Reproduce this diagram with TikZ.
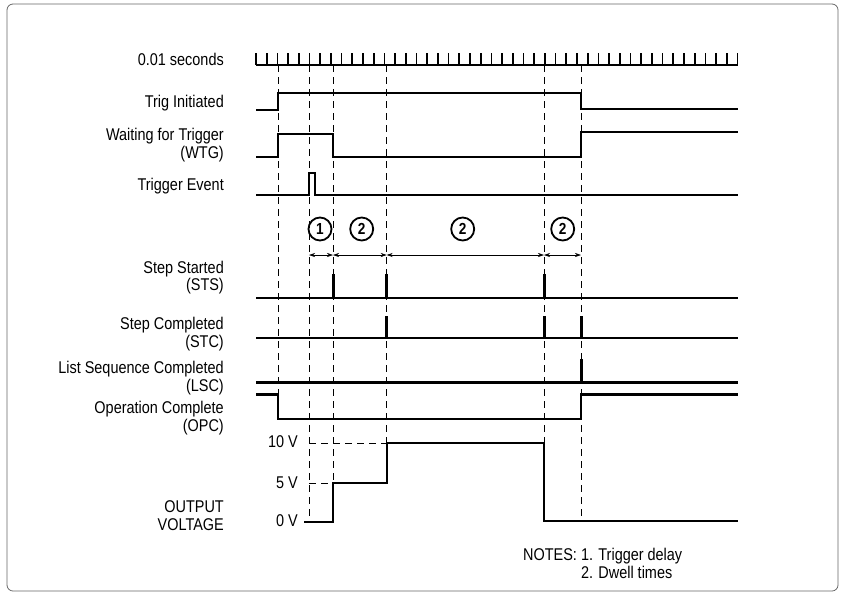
\documentclass[tikz,border=0pt]{standalone}
\usepackage{fontspec}
\setmainfont{Liberation Sans}[FakeStretch=0.85]
\usetikzlibrary{arrows.meta}
\tikzset{
  sig/.style={line width=2.2pt},
  pulse/.style={line width=3pt},
  guide/.style={line width=0.7pt,dash pattern=on 7pt off 5pt},
  lbl/.style={anchor=east,align=right,inner sep=0pt},
  num/.style={circle,draw,line width=1.8pt,minimum size=23pt,inner sep=0pt,font=\fontsize{16}{16}\selectfont\bfseries}
}
\begin{document}
\begin{tikzpicture}[x=1pt,y=-1pt,font=\fontsize{17}{17.5}\selectfont,line join=miter,>={Stealth[length=6pt,width=4pt]}]
	\useasboundingbox (0,0) rectangle (845,595);
	\draw[black!60,rounded corners=6pt,line width=0.8pt] (7,4) rectangle (838,591);
	\path
	\foreach \n/\x in {1/278,2/309,3/333,4/386.7,5/544,6/581}{(\x,65) coordinate (t\n)}
	;
	% time ruler
	\draw[line width=2pt] (256,65) -- (737.5,65);
	\foreach \i in {0,...,45}\draw[line width=1.7pt] ({256+\i*10.7},53) -- ({256+\i*10.7},65);
	% guides
	\foreach \n/\y in {1/419,2/522,3/483,4/443,5/521,6/521}\draw[guide] (t\n) -- (t\n |- 0,\y);
	\draw[guide] (t2 |- 0,443) -- (t4 |- 0,443) (t2 |- 0,483) -- (t3 |- 0,483);
	% signals
	\draw[sig] (256,110) -| (t1 |- 0,93) -| (t6 |- 0,109) -- (738,109);
	\draw[sig] (256,157) -| (t1 |- 0,134) -| (t3 |- 0,157) -| (t6 |- 0,132) -- (738,132);
	\draw[sig] (256,195) -| (t2 |- 0,173) -| (315,195) -- (738,195);
	\draw[sig] (256,298) -- (738,298) (256,338) -- (738,338) (256,382.5) -- (738,382.5);
	\foreach \n in {3,4,5}\draw[pulse] (t\n |- 0,298) -- (t\n |- 0,274);
	\foreach \n in {4,5,6}\draw[pulse] (t\n |- 0,338) -- (t\n |- 0,316);
	\draw[pulse] (t6 |- 0,382.5) -- (t6 |- 0,359);
	\draw[sig] (256,394.5) -| (t1 |- 0,419) -| (t6 |- 0,394.5) -- (738,394.5);
	\draw[sig] (304,522) -| (t3 |- 0,483) -| (t4 |- 0,443) -| (t5 |- 0,521) -- (738,521);
	% dwell arrows
	\foreach \a/\b in {2/3,3/4,4/5,5/6}\draw[<->,line width=0.6pt] (t\a |- 0,255) -- (t\b |- 0,255);
	\foreach \x/\n in {320/1,361.7/2,462.7/2,562.7/2}\node[num] (c\x) at (\x,229) {\n};
	% labels
	\foreach \y/\t in {59.5/0.01 seconds,103/Trig Initiated,145/Waiting for Trigger\\(WTG),186/Trigger Event,277.5/Step Started\\(STS),334/Step Completed\\(STC),378/List Sequence Completed\\(LSC),418/Operation Complete\\(OPC),515.5/OUTPUT\\VOLTAGE}
	\node[lbl] at (224,\y) {\t};
	\foreach \y/\t in {442/10 V,483/5 V,521/0 V}\node[lbl] at (298,\y) {\t};
	\node[anchor=north west,align=left,inner sep=0pt] (notes) at (523,548) {NOTES: 1. Trigger delay\\\hphantom{NOTES:~}2. Dwell times};
\end{tikzpicture}
\end{document}
